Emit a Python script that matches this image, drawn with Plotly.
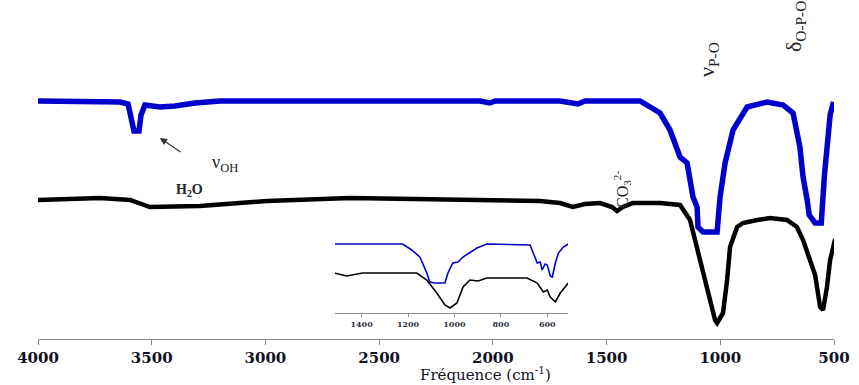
import plotly.graph_objects as go

# Main spectrum, sample 1 (blue, upper)
blue_wn = [4000, 3727, 3639, 3604, 3587, 3578, 3556, 3547, 3530, 3464, 3398, 3310, 3200,
           2057, 2013, 1990, 1705, 1652, 1626, 1595, 1353, 1265, 1221, 1177, 1146, 1120,
           1102, 1098, 1076, 1014, 1001, 979, 944, 882, 794, 724, 680, 650, 636, 618,
           609, 583, 556, 542, 529, 517, 502]
blue_t = [238, 238, 237, 235, 219, 208, 208, 224, 234, 232, 233, 236, 238,
          238, 236, 238, 238, 236, 235, 238, 238, 226, 209, 182, 176, 142,
          132, 112, 107, 107, 142, 176, 209, 232, 237, 234, 226, 192, 162, 139,
          124, 116, 116, 164, 199, 224, 237]

# Main spectrum, sample 2 (black, lower)
black_wn = [4000, 3727, 3595, 3508, 3288, 2993, 2628, 1793, 1705, 1648, 1595, 1529, 1476,
            1454, 1428, 1384, 1265, 1177, 1133, 1102, 1076, 1045, 1023, 1014, 988, 970,
            957, 926, 900, 838, 781, 707, 663, 636, 605, 583, 561, 548, 531, 517, 495]
black_t = [139, 141, 139, 132, 133, 138, 141, 138, 136, 132, 135, 136, 132,
           128, 132, 136, 136, 134, 119, 92, 69, 42, 19, 16, 26, 59,
           92, 112, 116, 119, 121, 119, 112, 99, 79, 64, 32, 29, 52, 79, 100]

# Inset (zoom 1500-500 cm-1)
ins_blue_wn = [1517, 1223, 1184, 1149, 1119, 1106, 1084, 1041, 1028, 1007, 985, 963, 903,
               860, 674, 656, 643, 630, 622, 609, 600, 587, 578, 565, 552, 531, 509]
ins_blue_t = [95, 95, 89, 82, 66, 57, 56, 56, 66, 76, 77, 82, 91,
              95, 94, 84, 76, 77, 69, 75, 74, 63, 62, 76, 86, 92, 95]
ins_black_wn = [1517, 1465, 1396, 1162, 1119, 1076, 1041, 1019, 989, 963, 933, 898, 860,
                687, 643, 617, 600, 587, 565, 544, 509]
ins_black_t = [66, 63, 66, 66, 59, 46, 34, 31, 36, 52, 59, 58, 61,
               61, 56, 47, 49, 42, 37, 46, 56]

main_ticks = [4000, 3500, 3000, 2500, 2000, 1500, 1000, 500]
inset_ticks = [1400, 1200, 1000, 800, 600]

BLUE = "#0000CD"
SERIF = "Liberation Serif"

fig = go.Figure()
fig.add_trace(go.Scatter(x=blue_wn, y=blue_t, mode="lines",
                         line=dict(color=BLUE, width=5.5), showlegend=False))
fig.add_trace(go.Scatter(x=black_wn, y=black_t, mode="lines",
                         line=dict(color="black", width=4.5), showlegend=False))
fig.add_trace(go.Scatter(x=ins_blue_wn, y=ins_blue_t, mode="lines", xaxis="x2", yaxis="y2",
                         line=dict(color=BLUE, width=1.6), showlegend=False))
fig.add_trace(go.Scatter(x=ins_black_wn, y=ins_black_t, mode="lines", xaxis="x2", yaxis="y2",
                         line=dict(color="black", width=1.6), showlegend=False))

fig.update_layout(
    width=859, height=385,
    margin=dict(l=38, r=25, t=0, b=46),
    paper_bgcolor="white", plot_bgcolor="white",
    xaxis=dict(range=[4000, 500], tickvals=main_ticks, showgrid=False, zeroline=False,
               showline=True, linecolor="#8a8a8a", linewidth=1.2,
               ticks="outside", ticklen=5, tickcolor="#8a8a8a",
               tickfont=dict(family="DejaVu Serif", size=15, color="#111122", weight="bold")),
    yaxis=dict(range=[0, 339], visible=False),
    xaxis2=dict(domain=[0.373, 0.666], anchor="y2", range=[1515, 510], tickvals=inset_ticks,
                showgrid=False, zeroline=False, showline=True, linecolor="#8a8a8a",
                linewidth=1, ticks="outside", ticklen=3, tickcolor="#8a8a8a",
                tickfont=dict(family="DejaVu Serif", size=8, color="#333344", weight="bold")),
    yaxis2=dict(domain=[0.0767, 0.292], anchor="x2", range=[26, 99], visible=False),
)

ann = [
    dict(x=485, y=374, xref="paper", yref="paper", text="Fréquence (cm<sup>-1</sup>)",
         font=dict(family="DejaVu Serif", size=15, color="#111122")),
    dict(x=3178, y=176, text="ν<sub>OH</sub>", font=dict(family=SERIF, size=18, color="#222")),
    dict(x=3332, y=149, text="<b>H<sub>2</sub>O</b>", font=dict(family=SERIF, size=14, color="#222")),
    dict(x=1432, y=149, text="CO<sub>3</sub><sup>2-</sup>", textangle=-90,
         font=dict(family=SERIF, size=16, color="#222")),
    dict(x=1054, y=279, text="ν<sub>P-O</sub>", textangle=-90,
         font=dict(family=SERIF, size=22, color="#222")),
    dict(x=671, y=312, text="δ<sub>O-P-O</sub>", textangle=-90,
         font=dict(family=SERIF, size=22, color="#222")),
]
anns = []
for a in ann:
    if a.get("xref") == "paper":
        a["x"] = (a["x"] - 38) / 796
        a["y"] = (339 - a["y"]) / 339
        a["yanchor"] = "middle"
        a["xanchor"] = "center"
    else:
        a.setdefault("xref", "x")
        a.setdefault("yref", "y")
    a["showarrow"] = False
    anns.append(a)

# arrow pointing to the OH band
anns.append(dict(x=3464, y=201, xref="x", yref="y", ax=3367, ay=186, axref="x", ayref="y",
                 text="", showarrow=True, arrowhead=2, arrowsize=1.2, arrowwidth=1.2,
                 arrowcolor="#333"))
fig.update_layout(annotations=anns)

fig.write_html("out.html")
